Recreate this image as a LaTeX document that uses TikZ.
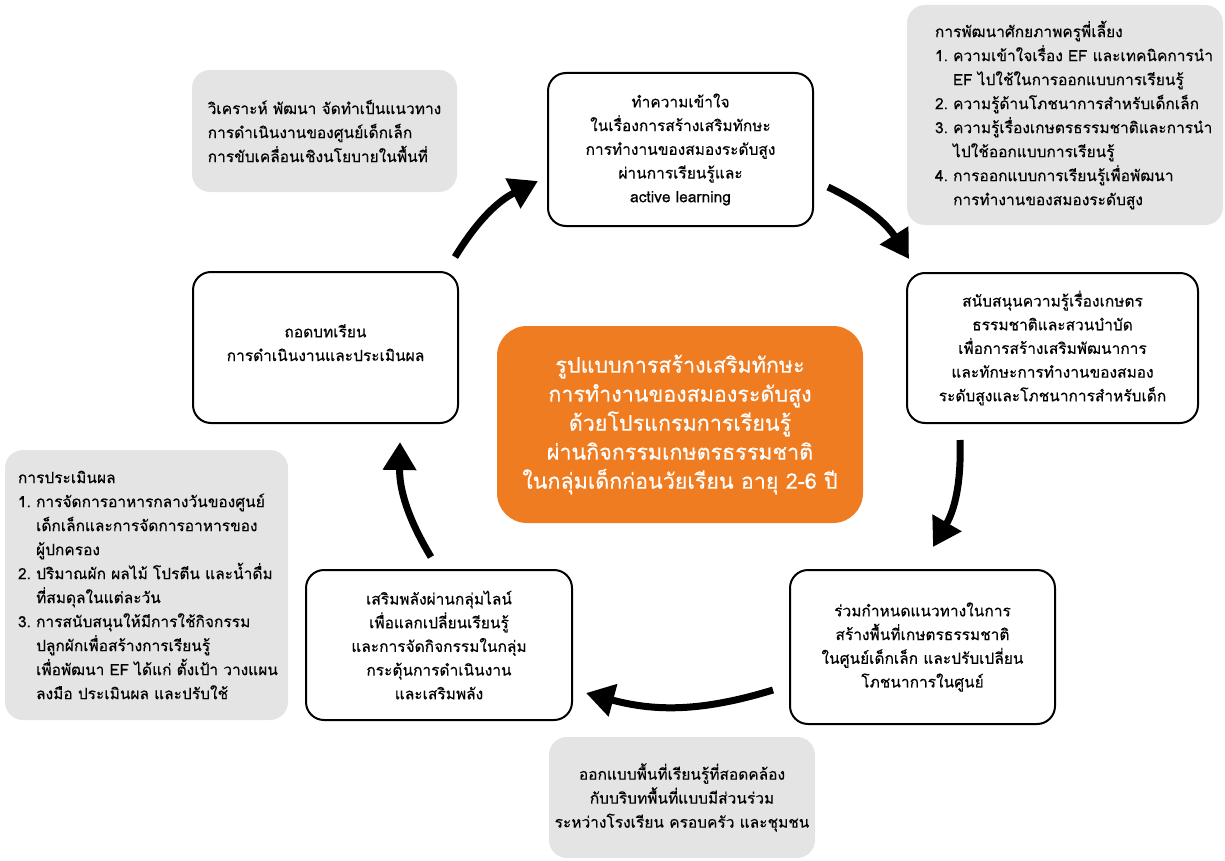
\documentclass[tikz,border=0pt]{standalone}
\usepackage{fontspec}
\setmainfont[Script=Thai,FakeBold=0.35]{Loma}
\usetikzlibrary{arrows.meta}
\definecolor{orangebox}{HTML}{F07C22}
\definecolor{graybox}{HTML}{E4E4E4}
\begin{document}
\begin{tikzpicture}[x=1pt,y=-1pt,
  stepbox/.style={draw=black, line width=2pt, rounded corners=18pt, fill=white, align=center, font=\fontsize{15.5}{23.7}\selectfont},
  notebox/.style={fill=graybox, rounded corners=18pt, font=\fontsize{15.5}{24}\selectfont},
  flow/.style={line width=7pt, -{Triangle[length=28pt,width=32pt]}, bend left=16}
]
\useasboundingbox (0,0) rectangle (1225,861);

% central box
\node[fill=orangebox, rounded corners=30pt, minimum width=366pt, minimum height=197pt, text=white, align=center, font=\fontsize{21.5}{29}\selectfont] (model) at (680,424.5)
 {รูปแบบการสร้างเสริมทักษะ\\การทำงานของสมองระดับสูง\\ด้วยโปรแกรมการเรียนรู้\\ผ่านกิจกรรมเกษตรธรรมชาติ\\ในกลุ่มเด็กก่อนวัยเรียน อายุ 2-6 ปี};

% step boxes
\node[stepbox, minimum width=265pt, minimum height=153pt] (understand) at (680.5,149.5)
 {ทำความเข้าใจ\\ในเรื่องการสร้างเสริมทักษะ\\การทำงานของสมองระดับสูง\\ผ่านการเรียนรู้และ\\active learning};
\node[stepbox, minimum width=291pt, minimum height=150pt] (support) at (1052.5,348)
 {สนับสนุนความรู้เรื่องเกษตร\\ธรรมชาติและสวนบำบัด\\เพื่อการสร้างเสริมพัฒนาการ\\และทักษะการทำงานของสมอง\\ระดับสูงและโภชนาการสำหรับเด็ก};
\node[stepbox, minimum width=265pt, minimum height=154pt] (space) at (922.5,647)
 {ร่วมกำหนดแนวทางในการ\\สร้างพื้นที่เกษตรธรรมชาติ\\ในศูนย์เด็กเล็ก และปรับเปลี่ยน\\โภชนาการในศูนย์};
\node[stepbox, minimum width=266pt, minimum height=150pt] (empower) at (439,645)
 {เสริมพลังผ่านกลุ่มไลน์\\เพื่อแลกเปลี่ยนเรียนรู้\\และการจัดกิจกรรมในกลุ่ม\\กระตุ้นการดำเนินงาน\\และเสริมพลัง};
\node[stepbox, minimum width=265pt, minimum height=151pt] (lessons) at (325.5,347.5)
 {ถอดบทเรียน\\การดำเนินงานและประเมินผล\\[-14pt]};

% gray notes
\node[notebox, align=left, minimum width=265pt, minimum height=122pt] (analyse) at (324.5,131)
 {วิเคราะห์ พัฒนา จัดทำเป็นแนวทาง\\การดำเนินงานของศูนย์เด็กเล็ก\\การขับเคลื่อนเชิงนโยบายในพื้นที่};
\node[notebox, align=left, text width=260pt, inner xsep=28pt, minimum height=220pt] (teacher) at (1065,115)
 {การพัฒนาศักยภาพครูพี่เลี้ยง\\
  1.~ความเข้าใจเรื่อง~EF~และเทคนิคการนำ\\
  \hphantom{1.~}EF~ไปใช้ในการออกแบบการเรียนรู้\\
  2.~ความรู้ด้านโภชนาการสำหรับเด็กเล็ก\\
  3.~ความรู้เรื่องเกษตรธรรมชาติและการนำ\\
  \hphantom{3.~}ไปใช้ออกแบบการเรียนรู้\\
  4.~การออกแบบการเรียนรู้เพื่อพัฒนา\\
  \hphantom{4.~}การทำงานของสมองระดับสูง};
\node[notebox, align=left, text width=257pt, inner xsep=13pt, minimum height=270pt] (evaluate) at (146.5,585)
 {การประเมินผล\\
  1.~การจัดการอาหารกลางวันของศูนย์\\
  \hphantom{1.~}เด็กเล็กและการจัดการอาหารของ\\
  \hphantom{1.~}ผู้ปกครอง\\
  2.~ปริมาณผัก~ผลไม้~โปรตีน~และน้ำดื่ม\\
  \hphantom{2.~}ที่สมดุลในแต่ละวัน\\
  3.~การสนับสนุนให้มีการใช้กิจกรรม\\
  \hphantom{3.~}ปลูกผักเพื่อสร้างการเรียนรู้\\
  \hphantom{3.~}เพื่อพัฒนา~EF~ได้แก่~ตั้งเป้า~วางแผน\\
  \hphantom{3.~}ลงมือ~ประเมินผล~และปรับใช้};
\node[notebox, align=center, minimum width=266pt, minimum height=121pt] (design) at (682,797.5)
 {ออกแบบพื้นที่เรียนรู้ที่สอดคล้อง\\กับบริบทพื้นที่แบบมีส่วนร่วม\\ระหว่างโรงเรียน ครอบครัว และชุมชน};

% arrows
\coordinate (a1s) at (455,257); \coordinate (a1e) at (538,181);
\coordinate (a2s) at (828,187); \coordinate (a2e) at (909,259);
\coordinate (a3s) at (960,440); \coordinate (a3e) at (933,547);
\coordinate (a4s) at (773,690); \coordinate (a4e) at (586,693);
\coordinate (a5s) at (431,557); \coordinate (a5e) at (400,442);
\draw[flow] (a1s) to (a1e);
\draw[flow] (a2s) to (a2e);
\draw[flow] (a3s) to (a3e);
\draw[flow] (a4s) to (a4e);
\draw[flow] (a5s) to (a5e);
\end{tikzpicture}
\end{document}
